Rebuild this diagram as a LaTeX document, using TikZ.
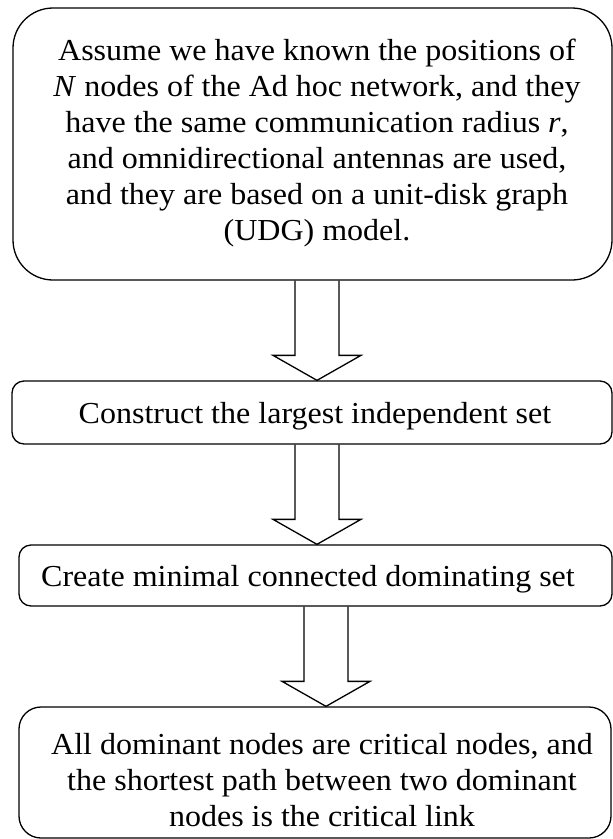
\documentclass[tikz,border=0pt]{standalone}
\usepackage{fontspec}
\setmainfont{Liberation Serif}[FakeStretch=1.05]
\usetikzlibrary{calc}

% Hollow block arrow from the bottom of one box to the top of the next,
% centred on the x position of the given coordinate.
\newcommand\hollowarrow[3]{%
  \draw[blockarrow] let \p1=(#1.south -| #3), \p2=(#2.north -| #3) in
    (\x1-22pt,\y1) -- (\x1-22pt,\y2+25pt) -- (\x1-44pt,\y2+25pt)
    -- (\x2,\y2)
    -- (\x1+44pt,\y2+25pt) -- (\x1+22pt,\y2+25pt) -- (\x1+22pt,\y1);}

\tikzset{
  box/.style={draw, line width=1.3pt, inner sep=0pt},
  boxtext/.style={font=\fontsize{30.5}{36}\selectfont, align=center, inner sep=0pt},
  blockarrow/.style={draw, line width=1.3pt, line join=miter},
}

\begin{document}
\begin{tikzpicture}[x=1pt,y=-1pt]
  \useasboundingbox (0,0) rectangle (613,839);

  % boxes
  \node[box, rounded corners=40pt, minimum width=599pt, minimum height=272pt] (b1) at (312.5,144) {};
  \node[box, rounded corners=12pt, minimum width=600pt, minimum height=63pt]  (b2) at (312,412.5) {};
  \node[box, rounded corners=12pt, minimum width=593pt, minimum height=61pt]  (b3) at (315.5,575.5) {};
  \node[box, rounded corners=22pt, minimum width=592pt, minimum height=131pt] (b4) at (315,772.5) {};

  % texts
  \node[boxtext] (t1) at (317,143.3) {Assume we have known the positions of\\
    \textit{N} nodes of the Ad hoc network, and they\\
    have the same communication radius \textit{r},\\
    and omnidirectional antennas are used,\\
    and they are based on a unit-disk graph\\
    (UDG) model.};
  \node[boxtext, anchor=base] (t2) at (315,423) {Construct the largest independent set};
  \node[boxtext, anchor=base] (t3) at (308,586.5) {Create minimal connected dominating set};
  \node[boxtext] (t4) at (322,780.5) {All dominant nodes are critical nodes, and\\
    the shortest path between two dominant\\
    nodes is the critical link};

  % arrow axes
  \coordinate (x1) at (317,0);
  \coordinate (x2) at (317,0);
  \coordinate (x3) at (326,0);

  % arrows
  \hollowarrow{b1}{b2}{x1}
  \hollowarrow{b2}{b3}{x2}
  \hollowarrow{b3}{b4}{x3}
\end{tikzpicture}
\end{document}
